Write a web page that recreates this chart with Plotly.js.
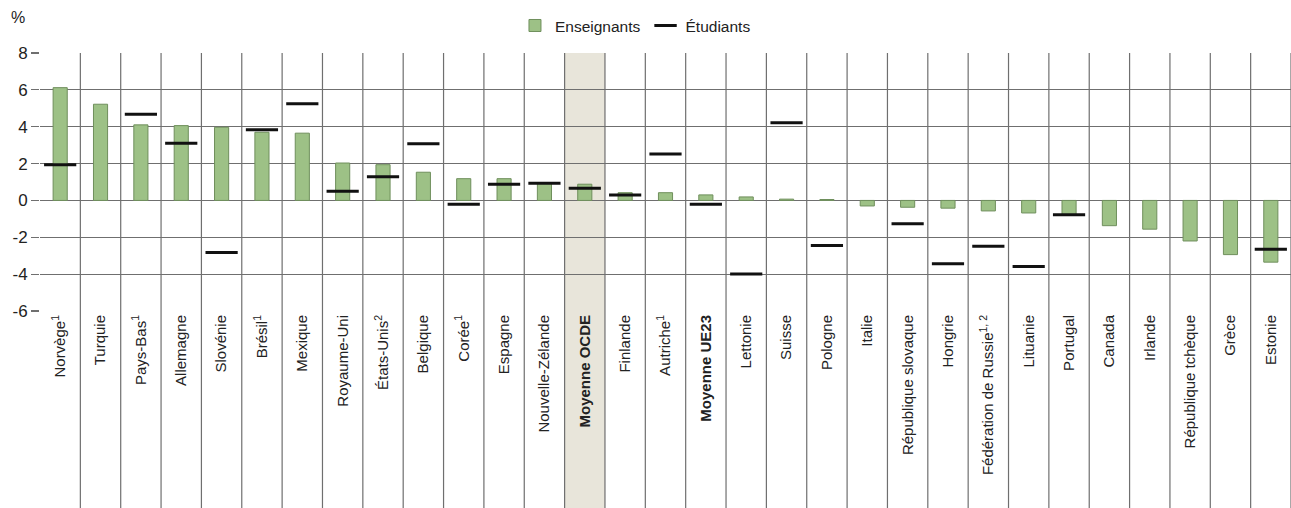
<!DOCTYPE html>
<html>
<head>
<meta charset="utf-8">
<script src="https://cdn.plot.ly/plotly-3.0.1.min.js"></script>
<style>html,body{margin:0;padding:0;background:#fff;}#chart{width:1291px;height:508px;}</style>
</head>
<body>
<div id="chart"></div>
<script>
const categories = ["Norvège<sup>1</sup>","Turquie","Pays-Bas<sup>1</sup>","Allemagne","Slovénie","Brésil<sup>1</sup>","Mexique","Royaume-Uni","États-Unis<sup>2</sup>","Belgique","Corée<sup>1</sup>","Espagne","Nouvelle-Zélande","<b>Moyenne OCDE</b>","Finlande","Autriche<sup>1</sup>","<b>Moyenne UE23</b>","Lettonie","Suisse","Pologne","Italie","République slovaque","Hongrie","Fédération de Russie<sup>1, 2</sup>","Lituanie","Portugal","Canada","Irlande","République tchèque","Grèce","Estonie"];
const enseignants = [6.12,5.22,4.1,4.06,3.97,3.7,3.65,2.03,1.94,1.53,1.18,1.18,0.93,0.88,0.42,0.42,0.3,0.19,0.07,0.05,-0.3,-0.37,-0.42,-0.57,-0.68,-0.79,-1.37,-1.56,-2.2,-2.94,-3.35];
const etudiants = [1.93,null,4.68,3.1,-2.83,3.83,5.24,0.5,1.28,3.08,-0.21,0.88,0.93,0.66,0.3,2.52,-0.21,-3.99,4.22,-2.45,null,-1.26,-3.43,-2.49,-3.59,-0.78,null,null,null,null,-2.65];
const yTickVals = [-6,-4,-2,0,2,4,6,8];
const yTickText = ["-6","-4","-2","0","2","4","6","8"];
const highlightIndex = 13;

const xs = categories.map((c,i)=>i);
const gridColor = '#6f6f6f';
const shapes = [];
shapes.push({type:'rect', xref:'x', yref:'paper', x0:highlightIndex-0.5, x1:highlightIndex+0.5, y0:-0.77, y1:1, fillcolor:'#e8e5da', line:{width:0}, layer:'below'});
for (let i=0;i<categories.length;i++){
  shapes.push({type:'line', xref:'x', yref:'paper', x0:i+0.5, x1:i+0.5, y0:-0.77, y1:1, line:{color:gridColor,width:1.2}, layer:'below'});
}

const data = [
  {type:'bar', name:'Enseignants', x:xs, y:enseignants, width:0.35,
   marker:{color:'#9dc186', line:{color:'#6f8f5c', width:1}}},
  {type:'scatter', mode:'markers', name:'Étudiants', x:xs, y:etudiants,
   marker:{symbol:'line-ew', size:23, color:'#111', line:{color:'#111', width:3}}}
];

const layout = {
  width:1291, height:508,
  margin:{l:40, r:0, t:53, b:197},
  paper_bgcolor:'#fff', plot_bgcolor:'rgba(0,0,0,0)',
  font:{family:'Liberation Sans, Arial, sans-serif', color:'#222'},
  showlegend:true,
  legend:{orientation:'h', x:0.476, xanchor:'center', y:1.105, yanchor:'middle',
          font:{family:'Liberation Sans, Arial', size:15.5, color:'#222'}, traceorder:'normal', itemwidth:30},
  xaxis:{range:[-0.5, categories.length-0.5], tickmode:'array', tickvals:xs, ticktext:categories,
         tickangle:-90, showgrid:false, zeroline:false, showline:false, ticks:'',
         tickfont:{size:15, family:'Liberation Sans, Arial', color:'#222'}},
  yaxis:{range:[-6,8], tickmode:'array', tickvals:yTickVals, ticktext:yTickText, showgrid:true, gridcolor:gridColor, gridwidth:1.2,
         zeroline:true, zerolinecolor:gridColor, zerolinewidth:1.2, ticks:'outside', ticklen:8, tickcolor:gridColor,
         tickwidth:1.2, showline:false,
         tickfont:{size:17, family:'Liberation Sans, Arial', color:'#222'}},
  shapes:shapes,
  annotations:[{text:'%', xref:'paper', yref:'paper', x:(18-40)/1251, y:1+(53-18)/258, xanchor:'center', yanchor:'middle', showarrow:false,
                font:{size:16, family:'Liberation Sans, Arial', color:'#222'}}]
};
Plotly.newPlot('chart', data, layout, {displayModeBar:false, staticPlot:true});
</script>
</body>
</html>
